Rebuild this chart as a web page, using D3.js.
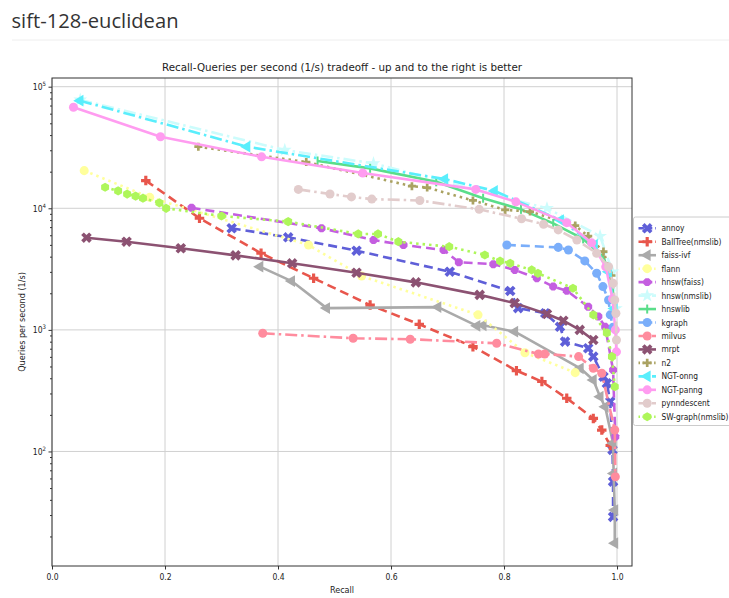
<!DOCTYPE html>
<html><head><meta charset="utf-8">
<script src="https://cdn.jsdelivr.net/npm/d3@7"></script>
<style>body{margin:0;background:#fff;}svg{display:block;}</style>
</head><body>
<svg id="c" width="729" height="598"></svg>
<script>
// ---- data ----
const seriesNames = ["annoy","BallTree(nmslib)","faiss-ivf","flann","hnsw(faiss)","hnsw(nmslib)","hnswlib","kgraph","milvus","mrpt","n2","NGT-onng","NGT-panng","pynndescent","SW-graph(nmslib)"];
const annoyRecall = [0.318,0.418,0.539,0.704,0.811,0.825,0.873,0.899,0.908,0.949,0.958,0.976,0.982,0.988,0.992,0.993,0.993];
const annoyQps    = [6850,5770,4480,3010,2090,1510,1370,1060,800,706,603,412,364,257,103,56.5,29];
const ballRecall  = [0.166,0.261,0.370,0.463,0.563,0.650,0.745,0.822,0.867,0.911,0.958,0.973,0.988];
const ballQps     = [16900,8280,4270,2660,1600,1110,728,462,376,274,187,150,112];
const ivfRecall   = [0.368,0.424,0.486,0.683,0.752,0.763,0.819,0.935,0.958,0.970,0.979,0.993,0.994,0.996,0.996];
const ivfQps      = [3310,2520,1510,1540,1080,1090,966,483,387,282,233,117,66,33,17.6];
const flannRecall = [0.057,0.173,0.454,0.548,0.754,0.837,0.926];
const flannQps    = [20400,12300,4990,2770,1330,649,445];
const hfaissRecall= [0.247,0.477,0.569,0.622,0.693,0.720,0.781,0.819,0.858,0.887,0.911,0.949,0.967,0.979,0.993,0.997];
const hfaissQps   = [10100,6850,5480,4990,4540,3600,3470,3110,2660,2270,2100,1550,1290,1060,468,132];
const hnmsRecall  = [0.05,0.412,0.569,0.876,0.970,0.992,0.998];
const hnmsQps     = [78000,30100,23400,10000,5900,3000,1500];
const hlibRecall  = [0.47,0.563,0.68,0.763,0.83,0.887,0.94,0.976,0.99,0.997];
const hlibQps     = [24500,21300,16500,12100,9800,7510,5600,4000,2500,1500];
const kgRecall    = [0.805,0.896,0.914,0.943,0.964,0.975,0.985,0.988,0.993];
const kgQps       = [4990,4770,4540,3690,2920,2270,1760,1330,1050];
const milvusRecall= [0.373,0.533,0.634,0.787,0.861,0.872,0.932,0.958,0.973,0.996,0.997];
const milvusQps   = [937,853,838,776,634,634,603,483,440,150,62];
const mrptRecall  = [0.061,0.132,0.228,0.325,0.425,0.539,0.644,0.757,0.819,0.876,0.905,0.934,0.958];
const mrptQps     = [5730,5310,4690,4100,3530,2950,2460,1940,1660,1350,1190,1000,826];
const n2Recall    = [0.259,0.45,0.637,0.664,0.745,0.802,0.846,0.926,0.949,0.976,0.99];
const n2Qps       = [32100,24000,15200,14800,11600,9700,9400,7200,5900,4400,2800];
const onngRecall  = [0.0496,0.345,0.695,0.783,0.90,0.96,0.985,0.995];
const onngQps     = [76700,32100,17400,13900,8000,5000,3000,1500];
const panngRecall = [0.038,0.192,0.371,0.55,0.750,0.821,0.911,0.955,0.980,0.992,0.997,0.999];
const panngQps    = [67800,38800,26500,19500,14300,11300,7620,5200,3300,1800,1000,660];
const pynnRecall  = [0.436,0.492,0.530,0.566,0.651,0.756,0.831,0.87,0.896,0.929,0.964,0.985,0.993,0.996,0.998,0.999];
const pynnQps     = [14300,13100,12400,11900,11600,9800,8200,7400,6640,5480,4270,3310,2420,1760,1370,826];
const swRecall    = [0.094,0.117,0.133,0.148,0.161,0.190,0.202,0.300,0.418,0.542,0.577,0.613,0.703,0.766,0.793,0.811,0.849,0.860,0.922,0.958,0.982,0.991,0.996];
const swQps       = [14900,13900,13100,12600,12100,11100,10000,8640,7770,6150,6150,5310,4830,4130,3680,3530,3110,2920,2200,1330,944,603,341];
const xTicks = [0,0.2,0.4,0.6,0.8,1.0];
const yTickExps = [2,3,4,5];

const recalls = [annoyRecall,ballRecall,ivfRecall,flannRecall,hfaissRecall,hnmsRecall,hlibRecall,kgRecall,milvusRecall,mrptRecall,n2Recall,onngRecall,panngRecall,pynnRecall,swRecall];
const qpss = [annoyQps,ballQps,ivfQps,flannQps,hfaissQps,hnmsQps,hlibQps,kgQps,milvusQps,mrptQps,n2Qps,onngQps,panngQps,pynnQps,swQps];

// styles
const colors = ["#5f5fd8","#e8564c","#aaaaaa","#ffff9c","#c45ee0","#ccfcfc","#5ade8a","#7aaefa","#ff8c9e","#8c5272","#aaa262","#5aeefc","#ff9cf0","#e2cccc","#aef65a"];
const dashes = ["9,5",  "9,5", null, "2.5,4", "9,5", "12,4,2.5,4", null, "9,5", "12,4,2.5,4", null, "2.5,4", "12,4,2.5,4", null, "12,4,2.5,4", "2.5,4"];
const markers = ["x","plus","tri","circle","oct","star","vbar","circle","circle","x","plusS","tri","circle","circle","hex"];

const svg = d3.select("#c");
const W = 729, H = 598;
const L = 52, R = 632, T = 78, B = 566;
const x = d3.scaleLinear().domain([0, 1.0265]).range([L, R]);
const y = d3.scaleLog().domain([11.43, 117900]).range([B, T]);

// page title
svg.append("text").attr("x", 11.5).attr("y", 27.5).text("sift-128-euclidean")
  .attr("font-family","'Open Sans', sans-serif").attr("font-size", 20).attr("fill","#333")
  .attr("textLength",167).attr("lengthAdjust","spacingAndGlyphs");
svg.append("line").attr("x1",12).attr("x2",W).attr("y1",40).attr("y2",40).attr("stroke","#eeeeee").attr("stroke-width",1);

// clip
svg.append("clipPath").attr("id","pc").append("rect").attr("x",L).attr("y",T).attr("width",R-L).attr("height",B-T);

// grid
const g = svg.append("g");
xTicks.forEach(t => g.append("line").attr("x1",x(t)).attr("x2",x(t)).attr("y1",T).attr("y2",B).attr("stroke","#d0d0d0").attr("stroke-width",1));
yTickExps.forEach(e => g.append("line").attr("x1",L).attr("x2",R).attr("y1",y(Math.pow(10,e))).attr("y2",y(Math.pow(10,e))).attr("stroke","#d0d0d0").attr("stroke-width",1));

// axes
const xAxis = d3.axisBottom(x).tickValues(xTicks).tickFormat(d3.format(".1f")).tickSize(3.5).tickSizeOuter(0);
const xa = svg.append("g").attr("transform",`translate(0,${B})`).call(xAxis);
xa.select(".domain").remove();
xa.selectAll("text").attr("font-family","'DejaVu Sans Condensed','DejaVu Sans',sans-serif").attr("font-size",8.5).attr("fill","#222").attr("dy","0.9em");
xa.selectAll("line").attr("stroke","#333");

const minorVals = [];
for (let e = 1; e <= 5; e++) for (let m = 1; m <= 9; m++) { const v = m*Math.pow(10,e); if (v>=11.43 && v<=117900 && m!==1) minorVals.push(v); }
const yMinor = d3.axisLeft(y).tickValues(minorVals).tickFormat("").tickSize(2).tickSizeOuter(0);
const ym = svg.append("g").attr("transform",`translate(${L},0)`).call(yMinor);
ym.select(".domain").remove(); ym.selectAll("line").attr("stroke","#333");
const yAxis = d3.axisLeft(y).tickValues(yTickExps.map(e=>Math.pow(10,e))).tickFormat("").tickSize(3.5).tickSizeOuter(0);
const ya = svg.append("g").attr("transform",`translate(${L},0)`).call(yAxis);
ya.select(".domain").remove(); ya.selectAll("line").attr("stroke","#333");
yTickExps.forEach(e => {
  const t = svg.append("text").attr("x", L-6).attr("y", y(Math.pow(10,e))+3.5).attr("text-anchor","end")
    .attr("font-family","'DejaVu Sans Condensed','DejaVu Sans',sans-serif").attr("font-size",8.5).attr("fill","#222");
  t.append("tspan").text("10");
  t.append("tspan").text(e).attr("font-size",6).attr("dy",-4);
});

// frame
svg.append("rect").attr("x",L).attr("y",T).attr("width",R-L).attr("height",B-T).attr("fill","none").attr("stroke","#333").attr("stroke-width",1);

// labels
svg.append("text").attr("x",(L+R)/2).attr("y",71).attr("text-anchor","middle").text("Recall-Queries per second (1/s) tradeoff - up and to the right is better")
  .attr("font-family","'DejaVu Sans Condensed','DejaVu Sans',sans-serif").attr("font-size",10.5).attr("fill","#222").attr("textLength",360).attr("lengthAdjust","spacingAndGlyphs");
svg.append("text").attr("x",(L+R)/2).attr("y",593).attr("text-anchor","middle").text("Recall")
  .attr("font-family","'DejaVu Sans Condensed','DejaVu Sans',sans-serif").attr("font-size",9).attr("fill","#222");
svg.append("text").attr("transform",`translate(25,${(T+B)/2}) rotate(-90)`).attr("text-anchor","middle").text("Queries per second (1/s)")
  .attr("font-family","'DejaVu Sans Condensed','DejaVu Sans',sans-serif").attr("font-size",9).attr("fill","#222");

// marker generator
function polyPath(n, r, rot) {
  const pts = [];
  for (let i = 0; i < n; i++) { const a = rot + i*2*Math.PI/n; pts.push([r*Math.cos(a), r*Math.sin(a)]); }
  return "M" + pts.map(p=>p.join(",")).join("L") + "Z";
}
function drawMarker(sel, type, color, cx, cy, scale) {
  const s = scale || 1;
  let p, rot = 0;
  switch (type) {
    case "circle": p = d3.symbol(d3.symbolCircle, 64*s*s)(); break;
    case "x": p = d3.symbol(d3.symbolCross, 70*s*s)(); rot = 45; break;
    case "plus": p = d3.symbol(d3.symbolCross, 50*s*s)(); break;
    case "plusS": p = d3.symbol(d3.symbolCross, 36*s*s)(); break;
    case "tri": p = d3.symbol(d3.symbolTriangle, 60*s*s)(); rot = -90; break;
    case "star": p = d3.symbol(d3.symbolStar, 60*s*s)(); break;
    case "oct": p = polyPath(8, 4.3*s, Math.PI/8); break;
    case "hex": p = polyPath(6, 4.6*s, Math.PI/2); break;
    case "vbar": p = "M-1,-4.5H1V4.5H-1Z"; break;
  }
  sel.append("path").attr("d", p).attr("fill", color)
    .attr("transform", `translate(${cx},${cy}) rotate(${rot})`);
}

// series
const plot = svg.append("g").attr("clip-path","url(#pc)");
seriesNames.forEach((name, i) => {
  const pts = recalls[i].map((r, j) => [r, qpss[i][j]]);
  const line = d3.line().x(d => x(d[0])).y(d => y(d[1]));
  const sg = plot.append("g");
  sg.append("path").attr("d", line(pts)).attr("fill","none").attr("stroke", colors[i]).attr("stroke-width", 2.6)
    .attr("stroke-dasharray", dashes[i]).attr("stroke-linejoin","round");
  pts.forEach(d => drawMarker(sg, markers[i], colors[i], x(d[0]), y(d[1])));
});

// legend
const lg = svg.append("g");
lg.append("rect").attr("x",633.5).attr("y",217).attr("width",110).attr("height",208.5).attr("rx",2)
  .attr("fill","#fff").attr("stroke","#cccccc").attr("stroke-width",1);
seriesNames.forEach((name, i) => {
  const yy = 228.3 + i*13.46;
  lg.append("line").attr("x1",638.5).attr("x2",656).attr("y1",yy).attr("y2",yy).attr("stroke",colors[i]).attr("stroke-width",2.6)
    .attr("stroke-dasharray", dashes[i] ? dashes[i].split(",").map(v=>+v*0.6).join(",") : null);
  drawMarker(lg, markers[i], colors[i], 647.2, yy, 1);
  lg.append("text").attr("x",661.5).attr("y",yy+3).text(name)
    .attr("font-family","'DejaVu Sans Condensed','DejaVu Sans',sans-serif").attr("font-size",8.3).attr("fill","#222");
});
</script>
</body></html>
